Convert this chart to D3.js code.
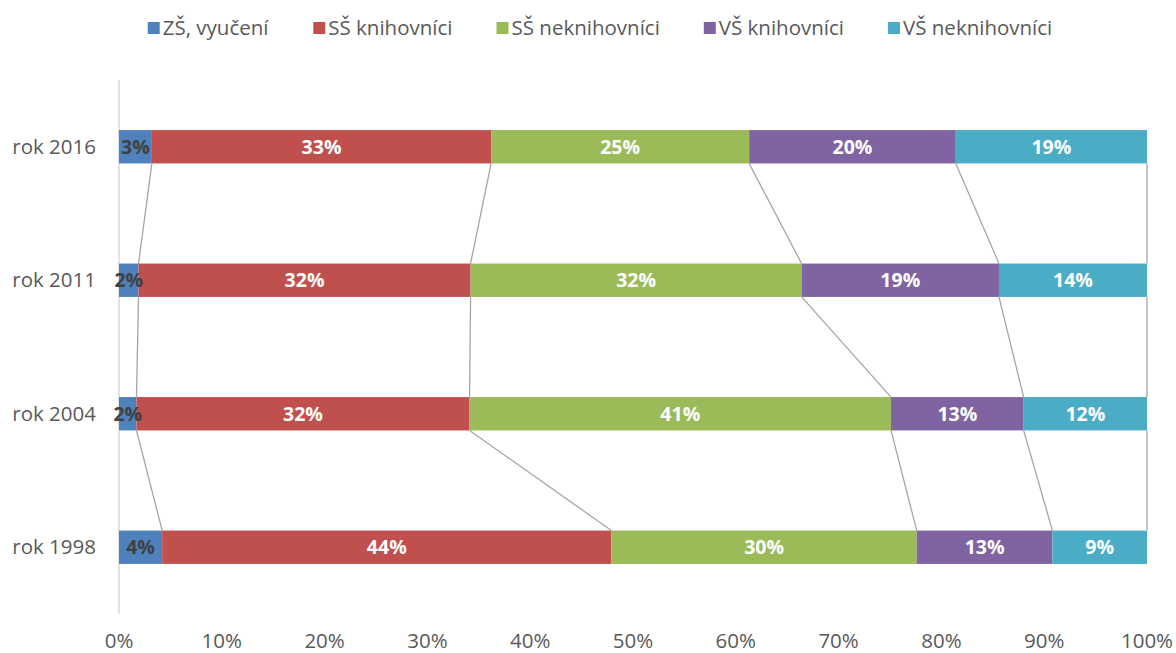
<!DOCTYPE html>
<html>
<head>
<meta charset="utf-8">
<script src="https://cdn.jsdelivr.net/npm/d3@7"></script>
<style>
  body { margin: 0; background: #fff; }
  text { font-family: "Open Sans", sans-serif; }
</style>
</head>
<body>
<div id="chart"></div>
<script>
// data (shares in %, per year row)
const years = ['rok 2016', 'rok 2011', 'rok 2004', 'rok 1998'];
const seriesNames = ['ZŠ, vyučení', 'SŠ knihovníci', 'SŠ neknihovníci', 'VŠ knihovníci', 'VŠ neknihovníci'];
const seriesColors = ['#4f81bd', '#c0504d', '#9bbb59', '#8064a2', '#4bacc6'];
const zsVyuceni = [3.2, 1.9, 1.7, 4.2];
const ssKnihovnici = [33.0, 32.3, 32.4, 43.7];
const ssNeknihovnici = [25.1, 32.2, 41.0, 29.7];
const vsKnihovnici = [20.1, 19.2, 12.9, 13.2];
const vsNeknihovnici = [18.6, 14.4, 12.0, 9.2];
const xTicks = [0, 10, 20, 30, 40, 50, 60, 70, 80, 90, 100];

const width = 1176, height = 653;
const margin = {top: 80, right: 29, bottom: 39, left: 119};
const innerW = width - margin.left - margin.right;
const innerH = height - margin.top - margin.bottom;

const rows = years.map((y, i) => {
    const vals = [zsVyuceni[i], ssKnihovnici[i], ssNeknihovnici[i], vsKnihovnici[i], vsNeknihovnici[i]];
    const total = d3.sum(vals);
    let acc = 0;
    const segs = vals.map((v, k) => {
        const p = v / total * 100;
        const s = {key: k, x0: acc, x1: acc + p, v: v};
        acc += p;
        return s;
    });
    return {year: y, segs: segs};
});

const svg = d3.select('#chart').append('svg')
    .attr('width', width)
    .attr('height', height);

const g = svg.append('g')
    .attr('transform', `translate(${margin.left},${margin.top})`);

const x = d3.scaleLinear().domain([0, 100]).range([0, innerW]);
const y = d3.scaleBand().domain(years).range([0, innerH]).paddingInner(0.75).paddingOuter(0.375);

// y axis line (behind everything)
g.append('line')
    .attr('x1', 0).attr('x2', 0).attr('y1', 0).attr('y2', innerH)
    .attr('stroke', '#d9d9d9').attr('stroke-width', 1.5);

// series lines between bars
for (let i = 0; i < rows.length - 1; i++) {
    const a = rows[i], b = rows[i + 1];
    a.segs.forEach((s, k) => {
        g.append('line')
            .attr('x1', x(s.x1)).attr('y1', y(a.year) + y.bandwidth())
            .attr('x2', x(b.segs[k].x1)).attr('y2', y(b.year))
            .attr('stroke', '#a5a5a5').attr('stroke-width', 1.3);
    });
}

// bars
const rowG = g.selectAll('.row').data(rows).enter().append('g')
    .attr('transform', d => `translate(0,${y(d.year)})`);

rowG.selectAll('rect').data(d => d.segs).enter().append('rect')
    .attr('x', d => x(d.x0))
    .attr('width', d => x(d.x1) - x(d.x0))
    .attr('height', y.bandwidth())
    .attr('fill', d => seriesColors[d.key]);

rowG.selectAll('.lbl').data(d => d.segs).enter().append('text')
    .attr('x', d => (x(d.x0) + x(d.x1)) / 2)
    .attr('y', y.bandwidth() / 2)
    .attr('dy', '0.36em')
    .attr('text-anchor', 'middle')
    .attr('font-size', 19.5)
    .attr('font-weight', 'bold')
    .attr('fill', d => d.key === 0 ? '#404040' : '#ffffff')
    .text(d => Math.round(d.v) + '%');

// y labels
g.selectAll('.ylab').data(years).enter().append('text')
    .attr('x', -23)
    .attr('y', d => y(d) + y.bandwidth() / 2)
    .attr('dy', '0.35em')
    .attr('text-anchor', 'end')
    .attr('font-size', 20.5)
    .attr('fill', '#595959')
    .text(d => d);

// x tick labels
g.selectAll('.xlab').data(xTicks).enter().append('text')
    .attr('x', d => x(d))
    .attr('y', innerH + 27)
    .attr('dy', '0.35em')
    .attr('text-anchor', 'middle')
    .attr('font-size', 20.5)
    .attr('fill', '#595959')
    .text(d => d + '%');

// legend
const legend = svg.append('g').attr('transform', 'translate(0,28)');
const items = legend.selectAll('g').data(seriesNames).enter().append('g');
items.append('rect')
    .attr('y', -6).attr('width', 12).attr('height', 12)
    .attr('fill', (d, i) => seriesColors[i]);
items.append('text')
    .attr('x', 15)
    .attr('dy', '0.35em')
    .attr('font-size', 20.5)
    .attr('fill', '#595959')
    .text(d => d);
const widths = [];
items.each(function () { widths.push(this.getBBox().width); });
const gap = 44;
const totalW = d3.sum(widths) + gap * (widths.length - 1);
let lx = (width - totalW) / 2 + 12;
items.attr('transform', (d, i) => {
    const t = `translate(${lx},0)`;
    lx += widths[i] + gap;
    return t;
});
</script>
</body>
</html>
